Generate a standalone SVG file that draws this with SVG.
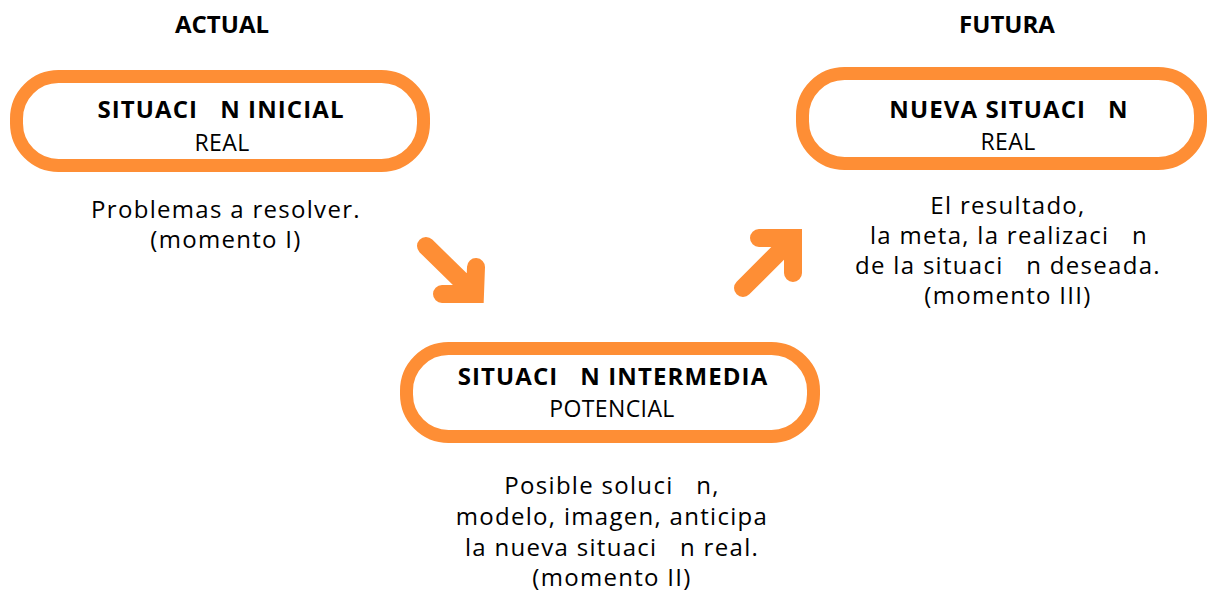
<svg xmlns="http://www.w3.org/2000/svg" width="1209" height="592" viewBox="0 0 1209 592">
<style>
.box{fill:#fff;stroke:#FE8E35;stroke-width:13}
.arr{fill:none;stroke:#FE8E35;stroke-width:18;stroke-linecap:round;stroke-linejoin:miter}
text{font-family:"Open Sans","DejaVu Sans",sans-serif;fill:#000;text-anchor:middle;white-space:pre}
.h{font-weight:bold;font-size:24px}
.t{font-weight:bold;font-size:24px;letter-spacing:1.1px}
.s{font-size:23px;letter-spacing:0.4px}
.b{font-size:24px;letter-spacing:1.3px}
</style>
<rect width="1209" height="592" fill="#fff"/>
<g id="label-actual"><text class="h" x="222" y="33">ACTUAL</text></g>
<g id="label-futura"><text class="h" x="1007" y="33">FUTURA</text></g>
<g id="node-inicial">
<rect class="box" x="16.5" y="76.5" width="407" height="89" rx="42"/>
<text class="t" x="221" y="118">SITUACI   N INICIAL</text>
<text class="s" x="222" y="151">REAL</text>
</g>
<g id="text-inicial">
<text class="b" x="226" y="218">Problemas a resolver.</text>
<text class="b" x="226" y="248">(momento I)</text>
</g>
<g id="node-nueva">
<rect class="box" x="802.5" y="73.5" width="398" height="90" rx="42"/>
<text class="t" x="1009" y="118">NUEVA SITUACI   N</text>
<text class="s" x="1008" y="150">REAL</text>
</g>
<g id="text-nueva">
<text class="b" x="1008" y="214">El resultado,</text>
<text class="b" x="1009" y="244">la meta, la realizaci   n</text>
<text class="b" x="1008" y="274">de la situaci   n deseada.</text>
<text class="b" x="1008" y="304">(momento III)</text>
</g>
<g id="node-intermedia">
<rect class="box" x="406.5" y="348.5" width="407" height="88" rx="42"/>
<text class="t" x="613" y="385">SITUACI   N INTERMEDIA</text>
<text class="s" x="612" y="417">POTENCIAL</text>
</g>
<g id="text-intermedia">
<text class="b" x="612" y="494">Posible soluci   n,</text>
<text class="b" x="612" y="525">modelo, imagen, anticipa</text>
<text class="b" x="612" y="556">la nueva situaci   n real.</text>
<text class="b" x="612" y="586">(momento II)</text>
</g>
<g id="connectors">
<path class="arr" d="M426 246 L473 292 M476 267 L475 294 L442 294"/>
<path class="arr" d="M743 288 L790 241 M759 238 L793 238 L793 273"/>
</g>
</svg>
